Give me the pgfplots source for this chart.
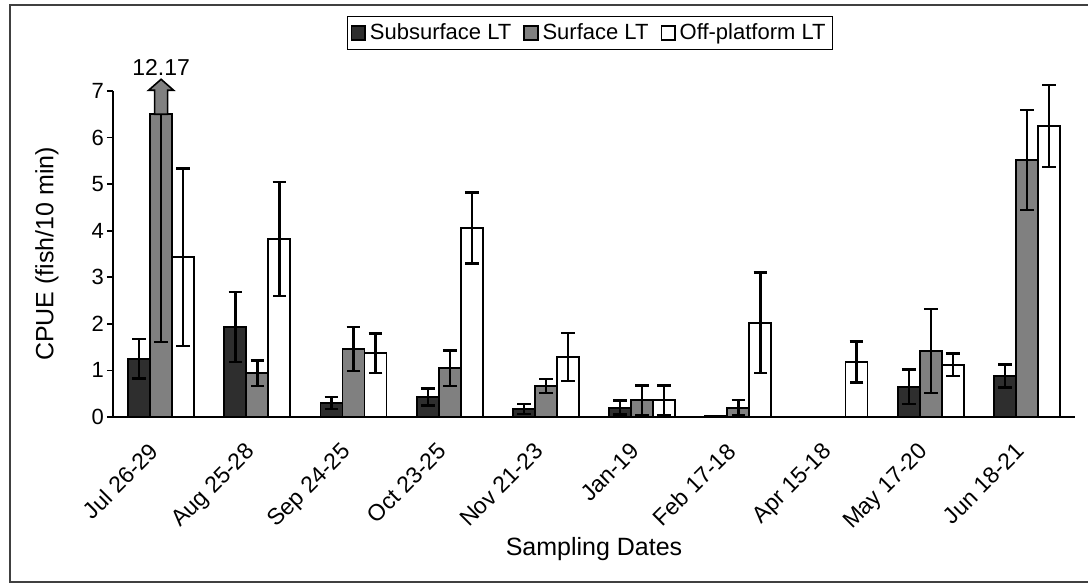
\documentclass[border=0pt]{standalone}
\usepackage{fontspec}
\setmainfont{Liberation Sans}
\usepackage{pgfplots}
\usepackage{pgfplotstable}
\pgfplotsset{compat=1.18}
\definecolor{subc}{HTML}{2E2E2E}
\definecolor{surc}{HTML}{808080}

\pgfplotstableread{
x y ep em
0 1.25 0.42 0.42
1 1.93 0.75 0.75
2 0.30 0.13 0.13
3 0.43 0.18 0.18
4 0.17 0.11 0.11
5 0.20 0.15 0.15
6 0.02 0 0
8 0.65 0.37 0.37
9 0.88 0.25 0.25
}\subtab

\pgfplotstableread{
x y ep em
0 6.50 0 4.89
1 0.94 0.27 0.27
2 1.46 0.47 0.47
3 1.05 0.38 0.38
4 0.67 0.15 0.15
5 0.36 0.32 0.32
6 0.20 0.17 0.17
8 1.42 0.90 0.90
9 5.52 1.07 1.07
}\surtab

\pgfplotstableread{
x y ep em
0 3.43 1.91 1.91
1 3.82 1.22 1.22
2 1.37 0.42 0.42
3 4.06 0.76 0.76
4 1.29 0.52 0.52
5 0.36 0.32 0.32
6 2.02 1.08 1.08
7 1.18 0.44 0.44
8 1.12 0.24 0.24
9 6.25 0.88 0.88
}\offtab

\begin{document}
\begin{tikzpicture}
\path[use as bounding box] (0,0) rectangle (544pt,294pt);
\draw[line width=0.7pt, black!75] (5pt,3pt) rectangle (560pt,291.5pt);
\begin{axis}[
  at={(56.5pt,85.5pt)}, anchor=south west,
  scale only axis, width=481pt, height=163pt,
  xmin=-0.5, xmax=9.5, ymin=0, ymax=7,
  clip=false,
  axis x line*=bottom, axis y line*=left,
  axis line style={line width=0.8pt},
  ybar=0pt, bar width=11pt,
  xtick={0,...,9},
  xticklabels={Jul 26-29, Aug 25-28, Sep 24-25, Oct 23-25, Nov 21-23, Jan-19, Feb 17-18, Apr 15-18, May 17-20, Jun 18-21},
  x tick style={draw=none},
  xticklabel style={font=\fontsize{11.5}{13}\selectfont, inner sep=0pt, yshift=-9pt, xshift=-6.5pt, rotate=45, anchor=north east},
  ytick={0,...,7},
  tick align=outside,
  y tick style={line width=0.8pt, black},
  major tick length=3pt,
  yticklabel style={font=\fontsize{11}{13}\selectfont, xshift=2pt},
  /pgf/number format/assume math mode=true,
  xlabel={Sampling Dates},
  ylabel={CPUE (fish/10 min)},
  every axis x label/.style={at={(axis description cs:0.5,-0.405)}, anchor=center, font=\fontsize{12.5}{14}\selectfont},
  every axis y label/.style={at={(axis description cs:-0.0686,0.5)}, rotate=90, anchor=center, font=\fontsize{12.5}{14}\selectfont},
  legend columns=3,
  legend style={at={(axis description cs:0.496,1.178)}, anchor=center, draw=black, line width=0.6pt,
    font=\fontsize{11}{13}\selectfont, inner sep=1.5pt,
    /tikz/every even column/.append style={column sep=4pt}},
  legend image code/.code={\draw[#1, line width=0.8pt] (0pt,-3.4pt) rectangle (6.8pt,3.4pt);},
  error bars/y dir=both, error bars/y explicit,
  error bars/error bar style={line width=1.2pt, black},
  error bars/error mark options={rotate=90, mark size=3.4pt, line width=1.2pt, black},
]
\addplot[draw=black, line width=0.9pt, fill=subc] table[x=x, y=y, y error plus=ep, y error minus=em] {\subtab};
\addlegendentry{Subsurface LT}
\addplot[draw=black, line width=0.9pt, fill=surc] table[x=x, y=y, y error plus=ep, y error minus=em] {\surtab};
\addlegendentry{Surface LT}
\addplot[draw=black, line width=0.9pt, fill=white] table[x=x, y=y, y error plus=ep, y error minus=em] {\offtab};
\addlegendentry{Off-platform LT}
\draw[fill=surc, line width=0.8pt] ([xshift=-3.25pt]axis cs:0,6.5) -- ++(0pt,12pt) -- ++(-3pt,0pt) -- ++(6.25pt,5.5pt) -- ++(6.25pt,-5.5pt) -- ++(-3pt,0pt) -- ++(0pt,-12pt) -- cycle;
\node[font=\fontsize{11.5}{13}\selectfont] at ([yshift=23.5pt]axis cs:0,6.5) {12.17};
\end{axis}
\end{tikzpicture}
\end{document}
